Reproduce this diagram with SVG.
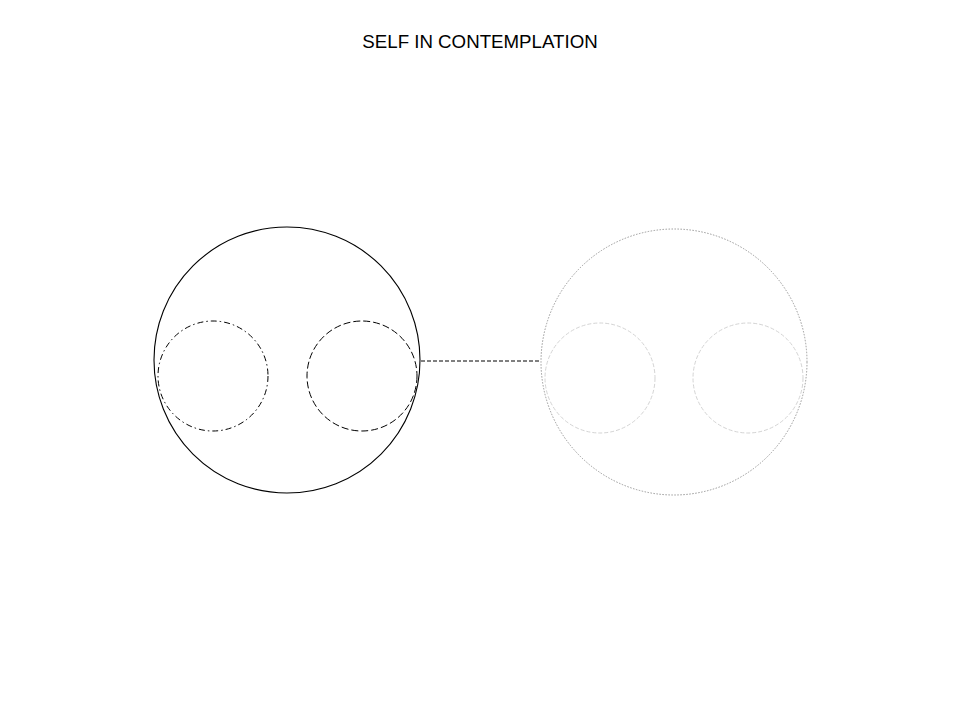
<svg xmlns="http://www.w3.org/2000/svg" width="960" height="720" viewBox="0 0 960 720">
<style>
.title{font-family:"Liberation Sans",Arial,sans-serif;font-size:18.7px;fill:#000}
.self{fill:none;stroke:#000;stroke-width:1.1}
.dashdot{fill:none;stroke:#000;stroke-width:1;stroke-dasharray:6 3 1.5 3}
.dash{fill:none;stroke:#000;stroke-width:1;stroke-dasharray:7 3}
.ghost{fill:none;stroke:#999;stroke-width:1;stroke-dasharray:1.5 1.5}
.ghostin{fill:none;stroke:#d4d4d4;stroke-width:1;stroke-dasharray:4 2}
.link{fill:none;stroke:#000;stroke-width:1;stroke-dasharray:4 2}
</style>
<rect width="960" height="720" fill="#fff"/>
<text class="title" x="480" y="47.5" text-anchor="middle">SELF IN CONTEMPLATION</text>
<g id="connectors">
<line class="link" x1="421" y1="361" x2="541" y2="361"/>
</g>
<g id="self">
<circle class="self" cx="287" cy="360" r="133"/>
<circle class="dashdot" cx="213" cy="376" r="55"/>
<circle class="dash" cx="362" cy="376" r="55"/>
</g>
<g id="reflection">
<circle class="ghost" cx="674" cy="362" r="133"/>
<circle class="ghostin" cx="600" cy="378" r="55"/>
<circle class="ghostin" cx="748" cy="378" r="55"/>
</g>
</svg>
